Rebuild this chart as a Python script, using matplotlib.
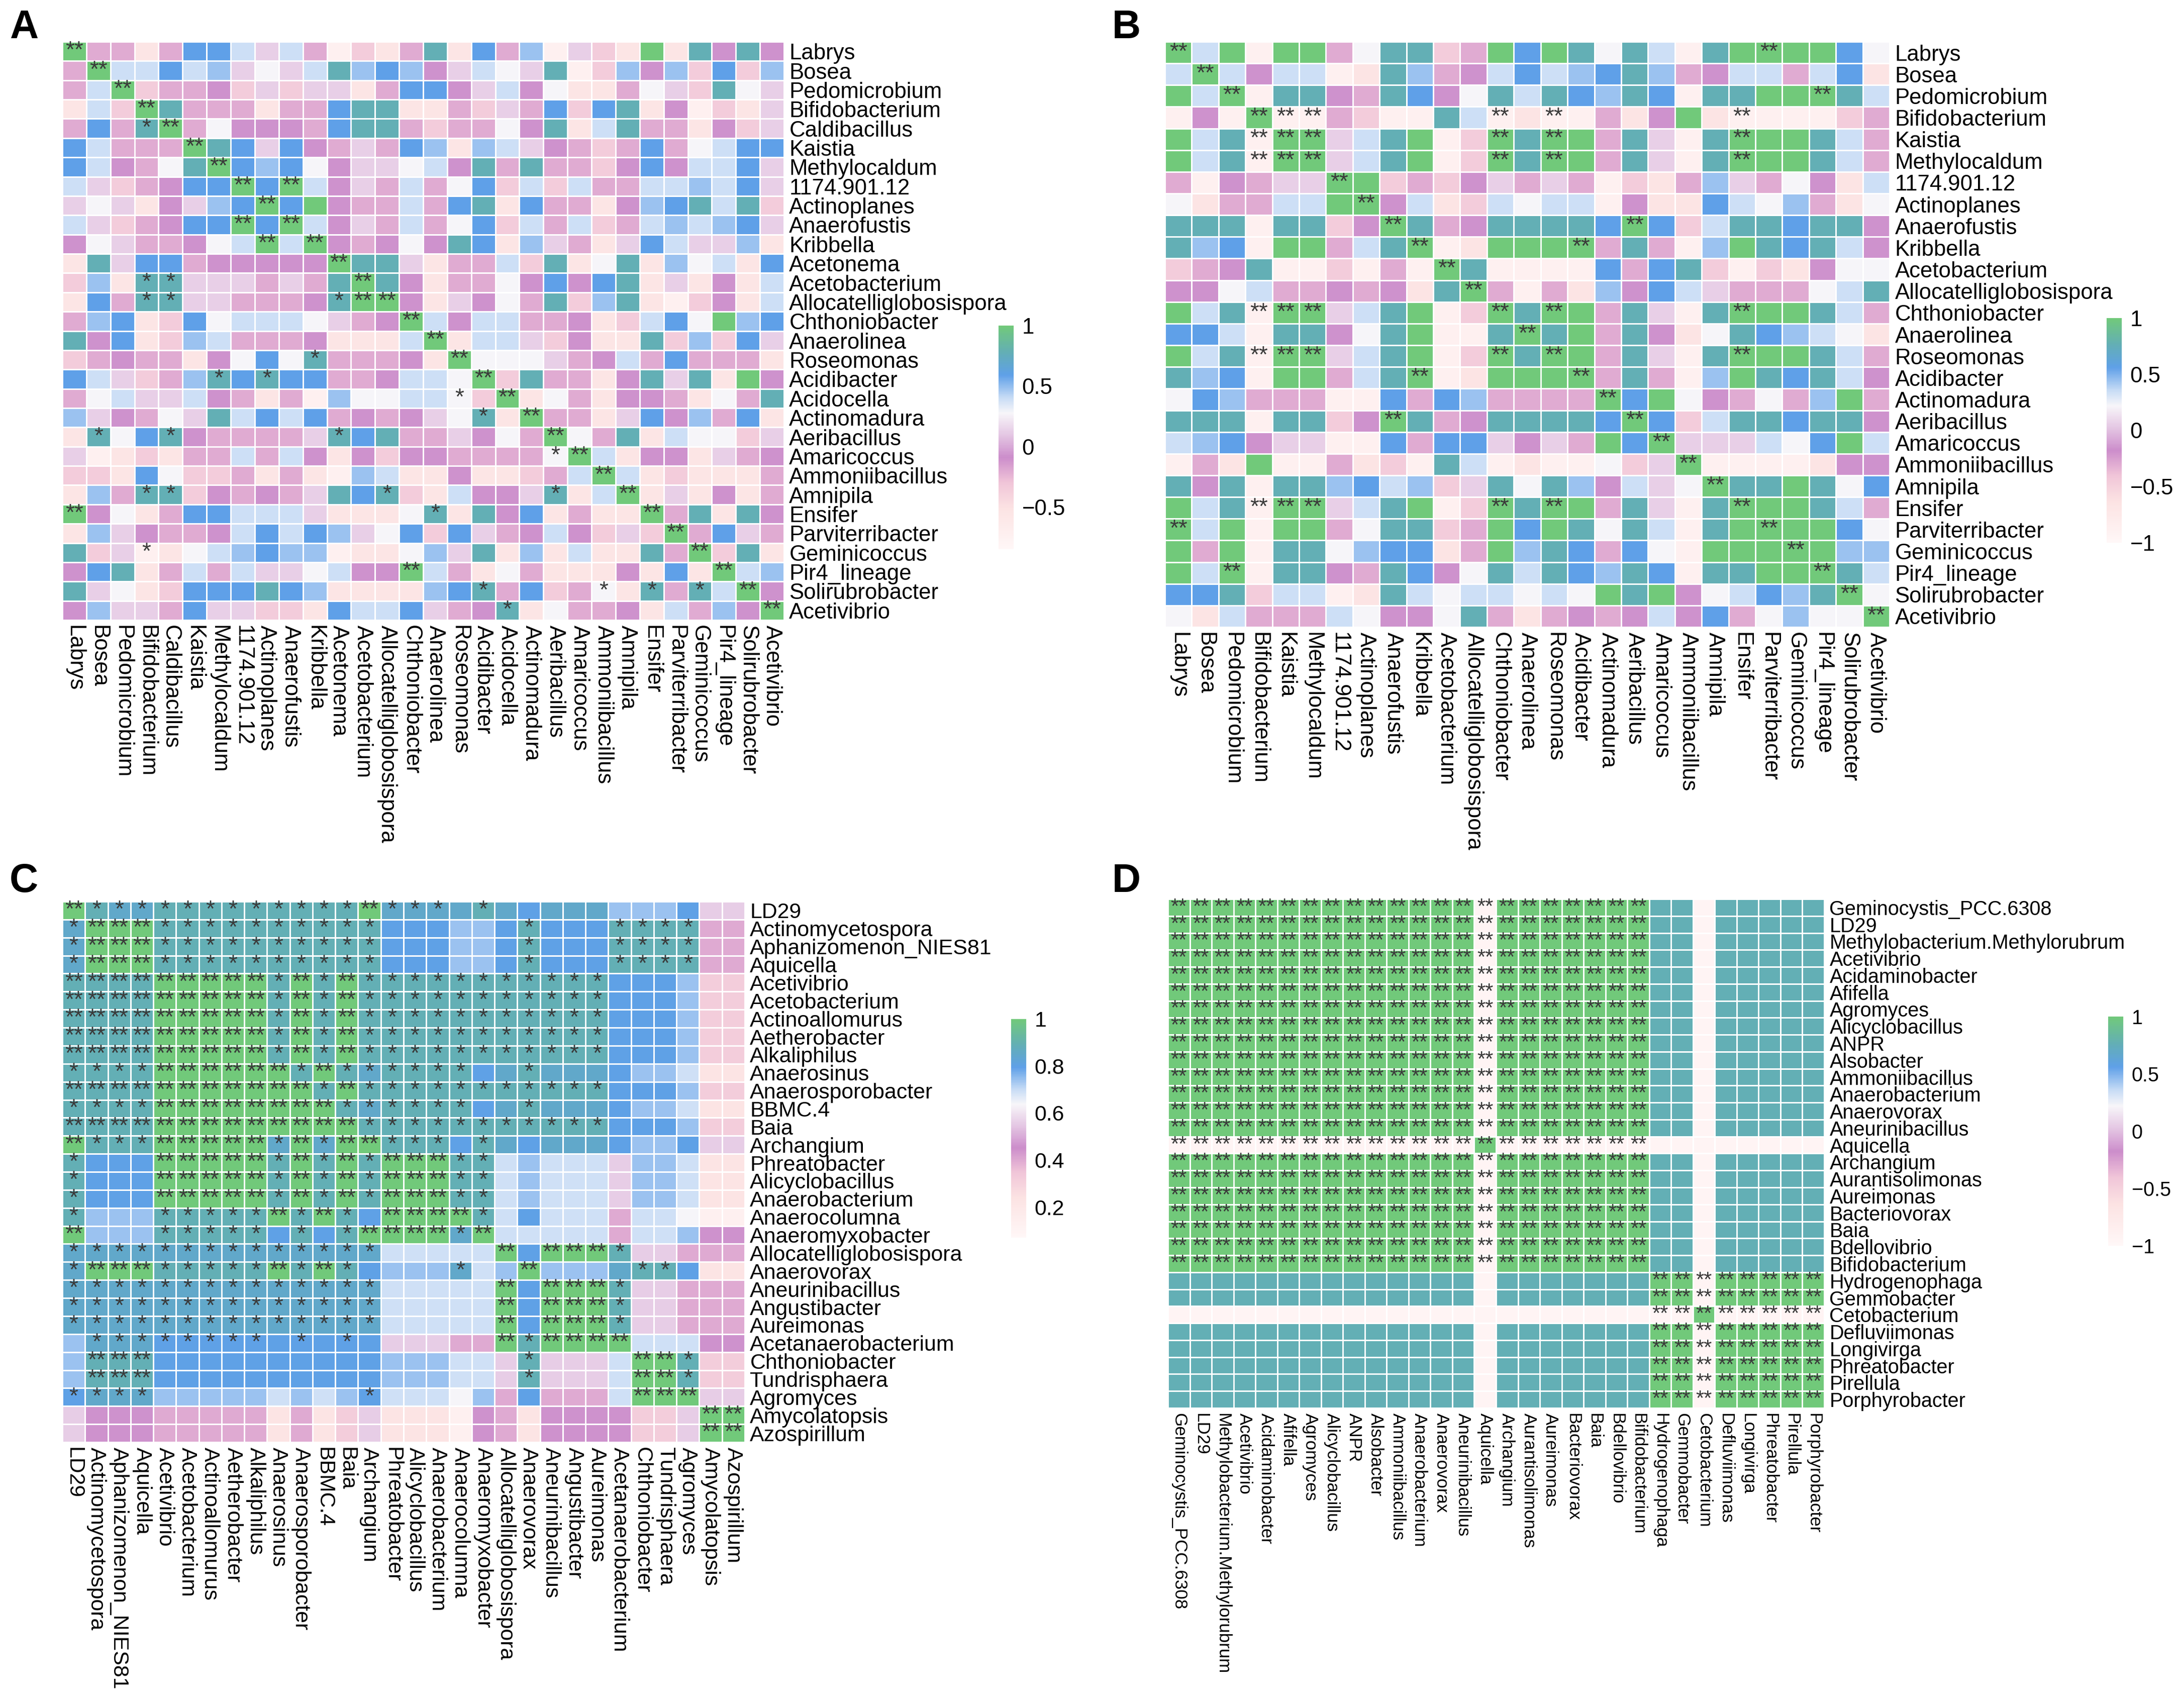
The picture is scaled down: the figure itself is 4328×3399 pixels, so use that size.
import numpy as np
import matplotlib
matplotlib.use('Agg')
import matplotlib.pyplot as plt
from matplotlib.colors import LinearSegmentedColormap

plt.rcParams['font.family'] = ['Liberation Sans', 'DejaVu Sans']

# ---------------- panel A ----------------
labels_a = ['Labrys', 'Bosea', 'Pedomicrobium', 'Bifidobacterium', 'Caldibacillus',
            'Kaistia', 'Methylocaldum', '1174.901.12', 'Actinoplanes', 'Anaerofustis',
            'Kribbella', 'Acetonema', 'Acetobacterium', 'Allocatelliglobosispora',
            'Chthoniobacter', 'Anaerolinea', 'Roseomonas', 'Acidibacter', 'Acidocella',
            'Actinomadura', 'Aeribacillus', 'Amaricoccus', 'Ammoniibacillus', 'Amnipila',
            'Ensifer', 'Parviterribacter', 'Geminicoccus', 'Pir4_lineage',
            'Solirubrobacter', 'Acetivibrio']

# colour level of every cell
cells_a = [
    "g p p l p B B c v c p r k l p t l B p b r v k l g l t P t P",
    "p g c c B c b v w v c t b B b P v c w v t r k b P b k B k b",
    "p c g k p p P k v k v v l p B B P v c P w l l p w v k t w v",
    "l c k g t p p p l p p B t t l l p k v p B k B t l P r k l v",
    "p B p t g p w P P P p B t t p k p p w P t l c t p p l P k v",
    "B c p p p g t B v B P p v p B b l b c v P p k p B p w c B B",
    "B c P p w t g B b B w P v v w c P t p t p p k P B P c c B v",
    "c v k p P B B g B g c P v p c p w B k c k c p p c c b c B v",
    "v w v l P v b B g B g P p p c p B t l B p p l P b B t c t k",
    "c v k p P B B g B g c P v p c p w B k c p c k p c b c b B v",
    "P w v p p P w c g c g P p P w P t B l b v p l v B c v v b l",
    "l t v B B p P P P P P g t t v l p p c k t l w t l b w c l B",
    "k b l t t v v v p v p t g t P l p p w P B P B t l v l P l c",
    "l B p t t v v p p p P t g g P l v P w p t k b t l r k P l c",
    "p b B l k B w c c c w v p P g c P c c p p P l k c B w g b B",
    "t P B l k b c p p p P l l l c g l c c v k P l l t k b k B v",
    "k p P p p l P w B w t p p p P l g w w w v p P c p B p p p l",
    "B c v k p b t B t B B p p P c c w g k t p p l P t v t l g P",
    "p w c v v c P p l p r b w w c c w k g l w p l P P p l w p t",
    "b v P p w v t c B c B p P p P v w t l g p p l v B P b p B l",
    "l t w B t P p p p p v t B t p p v P w p g w p t l c w w k v",
    "v r l k l p p c p c P l P k P P p p p p w g c l P P l v p P",
    "k k l B w k k p l p l r b c l l P l l k p c g c l k l l l p",
    "l b p t t k P p P p v t B t k l c P P v t l c g l v l P l p",
    "g P w l p B B c c c v l l l w t l t P B l p l l g p t l t P",
    "l b v P p p P c B c B b v w B k B v p P c P k v k g p B v p",
    "t k v r l w c b B b b r l l w b v t l b l c l l t p g k t l",
    "P B t l p c p c v v w c P P g c p l w p l l l P l B l g c b",
    "t v w l k B B B t B b l l l l b B t p B k p w l t p t c g P",
    "P b v v p B v v k k l B c c B v p P t l w p p P l c p b P g",
]
# significance: 1 = *, 2 = **
stars_a = [
    "2.... ..... ..... ..... ..... .....",
    ".2... ..... ..... ..... ..... .....",
    "..2.. ..... ..... ..... ..... .....",
    "...2. ..... ..... ..... ..... .....",
    "...12 ..... ..... ..... ..... .....",
    "..... 2.... ..... ..... ..... .....",
    "..... .2... ..... ..... ..... .....",
    "..... ..2.2 ..... ..... ..... .....",
    "..... ...2. ..... ..... ..... .....",
    "..... ..2.2 ..... ..... ..... .....",
    "..... ...2. 2.... ..... ..... .....",
    "..... ..... .2... ..... ..... .....",
    "...11 ..... ..2.. ..... ..... .....",
    "...11 ..... .122. ..... ..... .....",
    "..... ..... ....2 ..... ..... .....",
    "..... ..... ..... 2.... ..... .....",
    "..... ..... 1.... .2... ..... .....",
    "..... .1.1. ..... ..2.. ..... .....",
    "..... ..... ..... .1.2. ..... .....",
    "..... ..... ..... ..1.2 ..... .....",
    ".1..1 ..... .1... ..... 2.... .....",
    "..... ..... ..... ..... 12... .....",
    "..... ..... ..... ..... ..2.. .....",
    "...11 ..... ...1. ..... 1..2. .....",
    "2.... ..... ..... 1.... ....2 .....",
    "..... ..... ..... ..... ..... 2....",
    "...1. ..... ..... ..... ..... .2...",
    "..... ..... ....2 ..... ..... ..2..",
    "..... ..... ..... ..1.. ..1.1 .1.2.",
    "..... ..... ..... ...1. ..... ....2",
]
levels_a = {'g': 1.0, 't': 0.78, 'T': 0.70, 'B': 0.59, 'b': 0.48, 'c': 0.39, 'w': 0.28,
            'v': 0.13, 'P': -0.07, 'p': -0.20, 'k': -0.35, 'l': -0.54, 'r': -0.74}

# ---------------- panel B ----------------
labels_b = ['Labrys', 'Bosea', 'Pedomicrobium', 'Bifidobacterium', 'Kaistia',
            'Methylocaldum', '1174.901.12', 'Actinoplanes', 'Anaerofustis', 'Kribbella',
            'Acetobacterium', 'Allocatelliglobosispora', 'Chthoniobacter', 'Anaerolinea',
            'Roseomonas', 'Acidibacter', 'Actinomadura', 'Aeribacillus', 'Amaricoccus',
            'Ammoniibacillus', 'Amnipila', 'Ensifer', 'Parviterribacter', 'Geminicoccus',
            'Pir4_lineage', 'Solirubrobacter', 'Acetivibrio']

cells_b = [
    "g c g r g g p w t t k p g B g t w t c r t g g g g B w",
    "c g c P c c r l t b p P c B c b B t b p P c c p c B l",
    "g c g r t t P p t B P w t c t B b t B r t t g g g t c",
    "r P r g r r p k r r t c r l r r p l P g l r r r r k p",
    "g c t r g g v c t g r k g t g g p t v r t g g g t c p",
    "g c t r g g v c t g r k g t g g p t v r t g g g t c p",
    "p r P p v v g g k p k P v p v p r k l p b v p w P l c",
    "w l p p c c g g P c l k c w c c r P l l B c w b p l w",
    "t t t r t t k P g t p P t t t t B g B k c t t B t t P",
    "t b B r g g p c t g r l g g g g p t p r b g t B t c P",
    "k p P t r r k r p r g t r r r r B p B t k r k l P w w",
    "P P w c p p P p P l t g p r p l b P B c v p p p w c t",
    "g c t r g g v c t g r k g t g g p t v r t g g g t c p",
    "B B c r t t P w t g r r t g t g p t P l w t B b c w l",
    "g c t r g g v c t g r k g t g g p t v r t g g g t c p",
    "t b B r g g p c t g r l g g g g p t p r b g t B t c P",
    "w B b p p p r r B p B b p p p p g B g w P p w p b g p",
    "t t t r t t k P g t p P t t t t B g B k c t t B t t P",
    "c b B P v v r r B p B B v P v p g B g v v v c w B g c",
    "r p l g r r p l k r t c r l r r w k v g r r r r l P P",
    "t P t r t t b B c b k v t w t b P c v w g t t g t w B",
    "g c t r g g v c t g r k g t g g p t v r t g g g t c p",
    "g c g r g g p w t t k p g B g t w t c r t g g g g B w",
    "g p g r t t w b B B l p g b t B p B w r g g g g g b b",
    "g c g r t t P p t B P w t c t B b t B r t t g g g t c",
    "B B t k c c r l t c w c c w c w g t g P w c B b t g w",
    "w l c p p p c w P P w t p l p P p P c P B p w b w w g",
]
stars_b = [
    "2.... ..... ..... ..... ..2.. ..",
    ".2... ..... ..... ..... ..... ..",
    "..2.. ..... ..... ..... ....2 ..",
    "...22 2.... ..2.2 ..... .2... ..",
    "...22 2.... ..2.2 ..... .2... ..",
    "...22 2.... ..2.2 ..... .2... ..",
    "..... .2... ..... ..... ..... ..",
    "..... ..2.. ..... ..... ..... ..",
    "..... ...2. ..... ..2.. ..... ..",
    "..... ....2 ..... 2.... ..... ..",
    "..... ..... 2.... ..... ..... ..",
    "..... ..... .2... ..... ..... ..",
    "...22 2.... ..2.2 ..... .2... ..",
    "..... ..... ...2. ..... ..... ..",
    "...22 2.... ..2.2 ..... .2... ..",
    "..... ....2 ..... 2.... ..... ..",
    "..... ..... ..... .2... ..... ..",
    "..... ...2. ..... ..2.. ..... ..",
    "..... ..... ..... ...2. ..... ..",
    "..... ..... ..... ....2 ..... ..",
    "..... ..... ..... ..... 2.... ..",
    "...22 2.... ..2.2 ..... .2... ..",
    "2.... ..... ..... ..... ..2.. ..",
    "..... ..... ..... ..... ...2. ..",
    "..2.. ..... ..... ..... ....2 ..",
    "..... ..... ..... ..... ..... 2.",
    "..... ..... ..... ..... ..... .2",
]
levels_b = {'g': 1.0, 't': 0.76, 'T': 0.68, 'B': 0.56, 'b': 0.44, 'c': 0.34, 'w': 0.22,
            'v': 0.06, 'P': -0.16, 'p': -0.30, 'k': -0.46, 'l': -0.66, 'r': -0.88}

# ---------------- panel C ----------------
labels_c = ['LD29', 'Actinomycetospora', 'Aphanizomenon_NIES81', 'Aquicella', 'Acetivibrio',
            'Acetobacterium', 'Actinoallomurus', 'Aetherobacter', 'Alkaliphilus',
            'Anaerosinus', 'Anaerosporobacter', 'BBMC.4', 'Baia', 'Archangium',
            'Phreatobacter', 'Alicyclobacillus', 'Anaerobacterium', 'Anaerocolumna',
            'Anaeromyxobacter', 'Allocatelliglobosispora', 'Anaerovorax', 'Aneurinibacillus',
            'Angustibacter', 'Aureimonas', 'Acetanaerobacterium', 'Chthoniobacter',
            'Tundrisphaera', 'Agromyces', 'Amycolatopsis', 'Azospirillum']

cells_c = [
    "g t T T t t t t t t t t t g T T T T t T B T T T b b b B v v",
    "T g g g t t t t t t t t t t B B B b b B t B B B t t t t p p",
    "T g g g t t t t t t t t t t B B B b b B t B B B t t t t p p",
    "T g g g t t t t t t t t t t B B B b b B t B B B t t t t p p",
    "t t t t g g g g g t g t g t t t t t t t t t t t B B B b k k",
    "t t t t g g g g g t g t g t t t t t t t t t t t B B B b k k",
    "t t t t g g g g g t g t g t t t t t t t t t t t B B B b k k",
    "t t t t g g g g g t g t g t t t t t t t t t t t B B B b k k",
    "t t t t g g g g g t g t g t t t t t t t t t t t B B B b k k",
    "t t t t g g g g g g t g t T t t t t B T t T T T B b b c l l",
    "t t t t g g g g g g g t g t t t t t t t t t t t B B B b k k",
    "t t t t g g g g g g g g t T t t t t B T t T T T B b b c l l",
    "t t t t g g g g g g g g g t t t t t t t t t t t B B B b k k",
    "g t t t g g g g g T g T g g t t t B t T B T T T B b b B v v",
    "t B B B g g g g g t g t g t g g g t t c b c c c v b b c l l",
    "t B B B g g g g g t g t g t g g g t t c b c c c v b b c l l",
    "t B B B g g g g g t g t g t g g g t t c b c c c v b b c l l",
    "t b b b t t t t t g t g t B g g g g t c B c c c p c c w r r",
    "g b b b t t t t t B t B t g g g g T g c c c c c p c c b P P",
    "T T T T T T T T T T T T T T c c c c c g B g g g t v v p p p",
    "T g g g t t t t t g t g t B b b b T c b g b b b T t t B l l",
    "T T T T T T T T T T T T T T c c c c c g B g g g t v v p p p",
    "T T T T T T T T T T T T T T c c c c c g B g g g t v v p p p",
    "T T T T T T T T T T T T T T c c c c c g B g g g t v v p p p",
    "b T T T B B B B B B B B B B v v v p p g t g g g g c c c P P",
    "b t t t B B B B B B B B B B b b b c c v t v v v c g g t k k",
    "b t t t B B B B B B B B B B b b b c c v t v v v c g g t k k",
    "B T T T b b b b b c b c b B c c c w b p B p p p c g g g v v",
    "v P P P p p p p p l p l k v l l l r P p l P P P P k k v g g",
    "v P P P p p p p p l p l k v l l l r P p l P P P P k k v g g",
]
stars_c = [
    "21111 11111 11121 11.1. ..... .....",
    "12221 11111 1111. ..... 1...1 111..",
    "12221 11111 1111. ..... 1...1 111..",
    "12221 11111 1111. ..... 1...1 111..",
    "22222 22221 21211 11111 1111. .....",
    "22222 22221 21211 11111 1111. .....",
    "22222 22221 21211 11111 1111. .....",
    "22222 22221 21211 11111 1111. .....",
    "22222 22221 21211 11111 1111. .....",
    "11112 22222 12111 111.. 1.... .....",
    "22222 22222 21211 11111 1111. .....",
    "11112 22222 22111 111.. 1.... .....",
    "22222 22222 22211 11111 1111. .....",
    "21112 22221 21221 11.1. ..... .....",
    "1...2 22221 21212 2211. ..... .....",
    "1...2 22221 21212 2211. ..... .....",
    "1...2 22221 21212 2211. ..... .....",
    "1...1 11112 121.2 2221. ..... .....",
    "2...1 1111. 1.122 2212. ..... .....",
    "11111 11111 1111. ....2 .2221 .....",
    "12221 11112 121.. ..1.. 2.... 11...",
    "11111 11111 1111. ....2 .2221 .....",
    "11111 11111 1111. ....2 .2221 .....",
    "11111 11111 1111. ....2 .2221 .....",
    ".1111 1111. 1.1.. ....2 12222 .....",
    ".222. ..... ..... ..... 1.... 221..",
    ".222. ..... ..... ..... 1.... 221..",
    "1111. ..... ...1. ..... ..... 222..",
    "..... ..... ..... ..... ..... ...22",
    "..... ..... ..... ..... ..... ...22",
]
levels_c = {'g': 1.0, 't': 0.89, 'T': 0.85, 'B': 0.80, 'b': 0.74, 'c': 0.69, 'w': 0.64,
            'v': 0.56, 'P': 0.46, 'p': 0.40, 'k': 0.32, 'l': 0.23, 'r': 0.13}

# ---------------- panel D ----------------
labels_d = ['Geminocystis_PCC.6308', 'LD29', 'Methylobacterium.Methylorubrum', 'Acetivibrio',
            'Acidaminobacter', 'Afifella', 'Agromyces', 'Alicyclobacillus', 'ANPR',
            'Alsobacter', 'Ammoniibacillus', 'Anaerobacterium', 'Anaerovorax',
            'Aneurinibacillus', 'Aquicella', 'Archangium', 'Aurantisolimonas', 'Aureimonas',
            'Bacteriovorax', 'Baia', 'Bdellovibrio', 'Bifidobacterium', 'Hydrogenophaga',
            'Gemmobacter', 'Cetobacterium', 'Defluviimonas', 'Longivirga', 'Phreatobacter',
            'Pirellula', 'Porphyrobacter']

cells_d = [
    "ggggg ggggg ggggr ggggg ggttr ttttt",
    "ggggg ggggg ggggr ggggg ggttr ttttt",
    "ggggg ggggg ggggr ggggg ggttr ttttt",
    "ggggg ggggg ggggr ggggg ggttr ttttt",
    "ggggg ggggg ggggr ggggg ggttr ttttt",
    "ggggg ggggg ggggr ggggg ggttr ttttt",
    "ggggg ggggg ggggr ggggg ggttr ttttt",
    "ggggg ggggg ggggr ggggg ggttr ttttt",
    "ggggg ggggg ggggr ggggg ggttr ttttt",
    "ggggg ggggg ggggr ggggg ggttr ttttt",
    "ggggg ggggg ggggr ggggg ggttr ttttt",
    "ggggg ggggg ggggr ggggg ggttr ttttt",
    "ggggg ggggg ggggr ggggg ggttr ttttt",
    "ggggg ggggg ggggr ggggg ggttr ttttt",
    "rrrrr rrrrr rrrrg rrrrr rrrrr rrrrr",
    "ggggg ggggg ggggr ggggg ggttr ttttt",
    "ggggg ggggg ggggr ggggg ggttr ttttt",
    "ggggg ggggg ggggr ggggg ggttr ttttt",
    "ggggg ggggg ggggr ggggg ggttr ttttt",
    "ggggg ggggg ggggr ggggg ggttr ttttt",
    "ggggg ggggg ggggr ggggg ggttr ttttt",
    "ggggg ggggg ggggr ggggg ggttr ttttt",
    "ttttt ttttt ttttr ttttt ttggr ggggg",
    "ttttt ttttt ttttr ttttt ttggr ggggg",
    "rrrrr rrrrr rrrrr rrrrr rrrrg rrrrr",
    "ttttt ttttt ttttr ttttt ttggr ggggg",
    "ttttt ttttt ttttr ttttt ttggr ggggg",
    "ttttt ttttt ttttr ttttt ttggr ggggg",
    "ttttt ttttt ttttr ttttt ttggr ggggg",
    "ttttt ttttt ttttr ttttt ttggr ggggg",
]
stars_d = ["22222 22222 22222 22222 22... ....."] * 22 + \
          ["..... ..... ..... ..... ..222 22222"] * 8
levels_d = {'g': 1.0, 't': 0.76, 'r': -0.94}

# colour ramp of the original figure (pale pink -> purple -> white -> blue -> teal -> green)
ramp = [(0.00, '#fff7f7'), (0.18, '#fce3e3'), (0.30, '#f0c4d8'), (0.41, '#cc8dcb'),
        (0.51, '#e4c6e3'), (0.61, '#f7f6f9'), (0.68, '#c6dbf5'), (0.78, '#5fa0e8'),
        (0.88, '#63aeb6'), (1.00, '#71c97a')]
cmap = LinearSegmentedColormap.from_list('ramp', ramp, N=256)


def to_matrix(rows, levels):
    return np.array([[levels[ch] for ch in r.replace(' ', '')] for r in rows])


def fmt(t):
    return ('%g' % t).replace('-', '\u2212')


def heat(fig, rect, crect, labels, cells, stars, levels, vmin, vmax, ticks,
         fs_row, fs_col, sfs, letter, lxy):
    mat = to_matrix(cells, levels)
    n = len(labels)
    ax = fig.add_axes(rect)
    mesh = ax.pcolormesh(mat, cmap=cmap, vmin=vmin, vmax=vmax,
                         edgecolors='white', linewidth=0.7)
    ax.set_xlim(0, n)
    ax.set_ylim(n, 0)
    for i, row in enumerate(stars):
        for j, s in enumerate(row.replace(' ', '')):
            if s != '.':
                ax.text(j + 0.5, i + 0.5, '*' * int(s), ha='center', va='center',
                        fontsize=sfs, color='#3a3a3a')
    # column names hang down from the heatmap (read top to bottom)
    ax.set_xticks(np.arange(n) + 0.5)
    ax.set_xticklabels(labels, rotation=270, ha='center', va='top', fontsize=fs_col)
    ax.set_yticks(np.arange(n) + 0.5)
    ax.yaxis.tick_right()
    ax.set_yticklabels(labels, fontsize=fs_row)
    ax.tick_params(length=0, pad=2.5)
    for s in ax.spines.values():
        s.set_visible(False)

    cax = fig.add_axes(crect)
    cb = fig.colorbar(mesh, cax=cax, ticks=ticks)
    cb.outline.set_visible(False)
    cb.ax.set_yticklabels([fmt(t) for t in ticks])
    cax.tick_params(length=0, labelsize=fs_row, pad=4)

    fig.text(lxy[0], lxy[1], letter, fontsize=19, fontweight='bold',
             ha='center', va='center')


fig = plt.figure(figsize=(4328 / 300, 3399 / 300), dpi=300)

heat(fig, [0.02865, 0.63695, 0.33179, 0.33863], [0.4591, 0.6784, 0.0069, 0.1309],
     labels_a, cells_a, stars_a, levels_a, -0.85, 1.0, [-0.5, 0, 0.5, 1],
     10.5, 10.5, 11, 'A', (0.0109, 0.9838))
heat(fig, [0.53558, 0.63283, 0.33318, 0.34275], [0.9686, 0.6823, 0.0069, 0.1315],
     labels_b, cells_b, stars_b, levels_b, -1.0, 1.0, [-1, -0.5, 0, 0.5, 1],
     10.5, 10.5, 11, 'B', (0.5178, 0.9838))
heat(fig, [0.02865, 0.15563, 0.31377, 0.31656], [0.4649, 0.2754, 0.0069, 0.1280],
     labels_c, cells_c, stars_c, levels_c, 0.07, 1.0, [0.2, 0.4, 0.6, 0.8, 1],
     10.3, 10.3, 11, 'C', (0.0109, 0.4837))
heat(fig, [0.53697, 0.17564, 0.30176, 0.29803], [0.9693, 0.2707, 0.0069, 0.1342],
     labels_d, cells_d, stars_d, levels_d, -1.0, 1.0, [-1, -0.5, 0, 0.5, 1],
     9.5, 8.4, 10, 'D', (0.5178, 0.4837))

fig.savefig('out.png', dpi=300)
